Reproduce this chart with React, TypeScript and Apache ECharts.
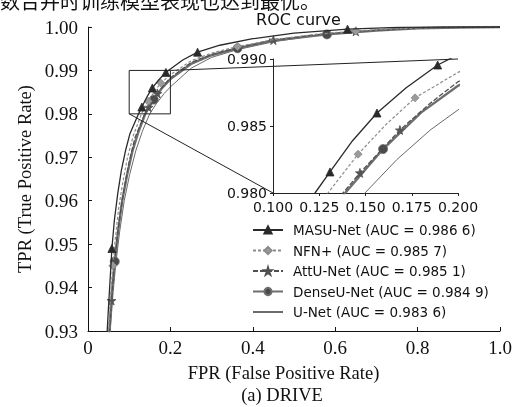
import React, { useEffect, useRef } from "react";
import * as echarts from "echarts";

const modelNames = [
  "MASU-Net (AUC = 0.986 6)",
  "NFN+ (AUC = 0.985 7)",
  "AttU-Net (AUC = 0.985 1)",
  "DenseU-Net (AUC = 0.984 9)",
  "U-Net (AUC = 0.983 6)",
];

const masuFpr = [0.042, 0.046, 0.05, 0.055, 0.058, 0.064, 0.072, 0.081, 0.091, 0.102, 0.1227, 0.1308, 0.143, 0.1562, 0.172, 0.189, 0.1968, 0.23, 0.266, 0.32, 0.4, 0.5, 0.63, 0.75, 0.85, 1.0];
const masuTpr = [0.92, 0.929, 0.936, 0.944, 0.949, 0.9555, 0.9615, 0.967, 0.9715, 0.9755, 0.98, 0.98157, 0.9839, 0.98597, 0.98785, 0.98955, 0.9901, 0.9924, 0.9942, 0.9958, 0.9973, 0.9986, 0.9995, 0.9999, 1.0, 1.0];
const masuMarks = [4, 11, 13, 15, 18, 22];

const nfnFpr = [0.045, 0.05, 0.055, 0.06, 0.066, 0.074, 0.084, 0.096, 0.11, 0.1297, 0.146, 0.161, 0.1768, 0.2, 0.25, 0.3, 0.363, 0.45, 0.55, 0.65, 0.75, 0.85, 1.0];
const nfnTpr = [0.92, 0.93, 0.938, 0.945, 0.951, 0.958, 0.964, 0.97, 0.975, 0.98, 0.9829, 0.9851, 0.9871, 0.989, 0.9922, 0.994, 0.9955, 0.9971, 0.9983, 0.9991, 0.9996, 0.9999, 1.0];
const nfnMarks = [3, 10, 12, 16, 19];

const attFpr = [0.047, 0.052, 0.057, 0.063, 0.07, 0.078, 0.088, 0.1, 0.114, 0.1378, 0.147, 0.1686, 0.185, 0.2, 0.25, 0.3, 0.363, 0.45, 0.55, 0.65, 0.75, 0.85, 1.0];
const attTpr = [0.92, 0.93, 0.937, 0.944, 0.951, 0.957, 0.963, 0.969, 0.9745, 0.98, 0.9815, 0.9847, 0.9867, 0.9883, 0.9918, 0.9937, 0.9952, 0.997, 0.9982, 0.999, 0.9995, 0.9999, 1.0];
const attMarks = [2, 10, 11, 17, 19];

const denseFpr = [0.047, 0.052, 0.058, 0.065, 0.073, 0.083, 0.095, 0.108, 0.123, 0.139, 0.1595, 0.18, 0.2, 0.25, 0.3, 0.363, 0.45, 0.58, 0.7, 0.8, 0.9, 1.0];
const denseTpr = [0.92, 0.93, 0.939, 0.946, 0.953, 0.96, 0.966, 0.9715, 0.976, 0.98, 0.98328, 0.986, 0.988, 0.9915, 0.9935, 0.9951, 0.9969, 0.9983, 0.9992, 0.9997, 0.9999, 1.0];
const denseMarks = [3, 10, 15, 17];

const unetFpr = [0.049, 0.054, 0.061, 0.068, 0.077, 0.088, 0.101, 0.116, 0.132, 0.1497, 0.167, 0.185, 0.2, 0.25, 0.3, 0.363, 0.45, 0.55, 0.65, 0.75, 0.85, 1.0];
const unetTpr = [0.92, 0.93, 0.939, 0.946, 0.953, 0.96, 0.966, 0.9715, 0.976, 0.98, 0.9825, 0.9847, 0.9862, 0.9905, 0.993, 0.9948, 0.9966, 0.998, 0.9989, 0.9995, 0.9999, 1.0];
const unetMarks: number[] = [];

const zoomX = [0.1, 0.2];
const zoomY = [0.98, 0.99];

const STAR = "path://M50,0 L61,35 L98,35 L68,57 L79,91 L50,70 L21,91 L32,57 L2,35 L39,35 Z";

const styles = [
  { color: "#2a2a2a", width: 1.3, type: "solid", symbol: "triangle", size: 8, fill: "#2a2a2a", legendMark: true },
  { color: "#8c8c8c", width: 1.2, type: [3, 2], symbol: "diamond", size: 8, fill: "#9a9a9a", legendMark: true },
  { color: "#505050", width: 1.3, type: [5, 2], symbol: STAR, size: 9, fill: "#555555", legendMark: true },
  { color: "#6e6e6e", width: 2.4, type: "solid", symbol: "circle", size: 9, fill: "#4a4a4a", legendMark: true },
  { color: "#6a6a6a", width: 1.0, type: "solid", symbol: "circle", size: 0, fill: "#6a6a6a", legendMark: false },
];

const models = [
  [masuFpr, masuTpr, masuMarks],
  [nfnFpr, nfnTpr, nfnMarks],
  [attFpr, attTpr, attMarks],
  [denseFpr, denseTpr, denseMarks],
  [unetFpr, unetTpr, unetMarks],
] as [number[], number[], number[]][];

export default function App() {
  const ref = useRef<HTMLDivElement>(null);
  useEffect(() => {
    if (!ref.current) return;
    const chart = echarts.init(ref.current, undefined, { renderer: "svg" });
    const serif = "'Liberation Serif', 'Times New Roman', serif";
    const sans = "'DejaVu Sans', sans-serif";

    const series: any[] = [];
    models.forEach(([fx, ty, marks], i) => {
      const st = styles[i];
      const data = fx.map((x, k) =>
        marks.indexOf(k) >= 0 ? { value: [x, ty[k]] } : { value: [x, ty[k]], symbol: "none" }
      );
      for (let g = 0; g < 2; g++) {
        series.push({
          type: "line",
          name: modelNames[i],
          xAxisIndex: g,
          yAxisIndex: g,
          data,
          symbol: st.symbol,
          symbolSize: st.size,
          showSymbol: true,
          showAllSymbol: true,
          clip: true,
          lineStyle: { color: st.color, width: st.width, type: st.type as any },
          itemStyle: { color: st.fill, borderColor: st.color, borderWidth: 0.8 },
          emphasis: { disabled: true },
          z: 5 - i,
        });
      }
    });

    const legendData = modelNames.map((n, i) =>
      styles[i].legendMark
        ? { name: n }
        : { name: n, itemStyle: { color: "rgba(0,0,0,0)", borderColor: "rgba(0,0,0,0)", borderWidth: 0 } }
    );

    chart.setOption({
      animation: false,
      title: {
        text: "ROC curve",
        left: 293.5,
        textAlign: "center",
        top: 6,
        textStyle: { fontFamily: sans, fontSize: 16, fontWeight: "normal", color: "#111" },
      },
      legend: {
        orient: "vertical",
        left: 252,
        top: 223,
        padding: 0,
        itemWidth: 30,
        itemHeight: 9,
        itemGap: 6.5,
        data: legendData,
        textStyle: { fontFamily: sans, fontSize: 13.5, color: "#111", lineHeight: 14, padding: [0, 0, 0, 5] },
      },
      grid: [
        { left: 88, top: 27, right: 17, bottom: 76 },
        { left: 273, top: 59, width: 185, height: 134 },
      ],
      xAxis: [
        {
          type: "value",
          gridIndex: 0,
          min: 0,
          max: 1,
          interval: 0.2,
          splitLine: { show: false },
          axisLine: { lineStyle: { color: "#111", width: 1 } },
          axisTick: { inside: true, length: 4, lineStyle: { color: "#111" } },
          axisLabel: {
            fontFamily: serif,
            fontSize: 19,
            color: "#111",
            margin: 7,
            formatter: (v: number) => (v === 0 ? "0" : v.toFixed(1)),
          },
        },
        {
          type: "value",
          gridIndex: 1,
          min: zoomX[0],
          max: zoomX[1],
          interval: 0.025,
          splitLine: { show: false },
          axisLine: { lineStyle: { color: "#222", width: 1 } },
          axisTick: { length: 3, lineStyle: { color: "#222" } },
          axisLabel: {
            fontFamily: sans,
            fontSize: 14,
            color: "#111",
            margin: 7,
            formatter: (v: number) => v.toFixed(3),
          },
        },
      ],
      yAxis: [
        {
          type: "value",
          gridIndex: 0,
          min: 0.93,
          max: 1.0,
          interval: 0.01,
          splitLine: { show: false },
          axisLine: { show: true, lineStyle: { color: "#111", width: 1 } },
          axisTick: { show: true, inside: true, length: 4, lineStyle: { color: "#111" } },
          axisLabel: {
            fontFamily: serif,
            fontSize: 19,
            color: "#111",
            margin: 10,
            formatter: (v: number) => v.toFixed(2),
          },
        },
        {
          type: "value",
          gridIndex: 1,
          min: zoomY[0],
          max: zoomY[1],
          interval: 0.005,
          splitLine: { show: false },
          axisLine: { show: true, lineStyle: { color: "#222", width: 1 } },
          axisTick: { show: true, length: 3, lineStyle: { color: "#222" } },
          axisLabel: {
            fontFamily: sans,
            fontSize: 14,
            color: "#111",
            margin: 6,
            formatter: (v: number) => v.toFixed(3),
          },
        },
      ],
      series,
    });

    const mTL = chart.convertToPixel({ gridIndex: 0 } as any, [zoomX[0], zoomY[1]]) as number[];
    const mBR = chart.convertToPixel({ gridIndex: 0 } as any, [zoomX[1], zoomY[0]]) as number[];
    const iTR = chart.convertToPixel({ gridIndex: 1 } as any, [zoomX[1], zoomY[1]]) as number[];
    const iBL = chart.convertToPixel({ gridIndex: 1 } as any, [zoomX[0], zoomY[0]]) as number[];
    const lineSt = { stroke: "#222", lineWidth: 1 };

    chart.setOption({
      graphic: [
        {
          type: "rect",
          shape: { x: mTL[0], y: mTL[1], width: mBR[0] - mTL[0], height: mBR[1] - mTL[1] },
          style: { fill: "none", stroke: "#222", lineWidth: 1 },
          z: 10,
        },
        { type: "line", shape: { x1: mBR[0], y1: mTL[1], x2: iTR[0], y2: iTR[1] }, style: lineSt, z: 10 },
        { type: "line", shape: { x1: mTL[0], y1: mBR[1], x2: iBL[0], y2: iBL[1] }, style: lineSt, z: 10 },
        {
          type: "text",
          x: 0,
          y: 10,
          style: {
            text: "数合并时训练模型表现也达到最优。",
            font: "20px 'Noto Sans CJK SC', sans-serif",
            fill: "#111",
            textVerticalAlign: "bottom",
          },
        },
        {
          type: "text",
          x: 25,
          y: 179,
          rotation: Math.PI / 2,
          style: {
            text: "TPR (True Positive Rate)",
            font: "18.5px " + serif,
            fill: "#111",
            textAlign: "center",
            textVerticalAlign: "middle",
          },
        },
        {
          type: "text",
          x: 283.5,
          y: 373,
          style: {
            text: "FPR (False Positive Rate)",
            font: "18.5px " + serif,
            fill: "#111",
            textAlign: "center",
            textVerticalAlign: "middle",
          },
        },
        {
          type: "text",
          x: 282,
          y: 395,
          style: {
            text: "(a) DRIVE",
            font: "18.5px " + serif,
            fill: "#111",
            textAlign: "center",
            textVerticalAlign: "middle",
          },
        },
      ],
    });

    return () => chart.dispose();
  }, []);
  return <div ref={ref} style={{ position: "fixed", left: 0, top: 0, width: 517, height: 407 }} />;
}
